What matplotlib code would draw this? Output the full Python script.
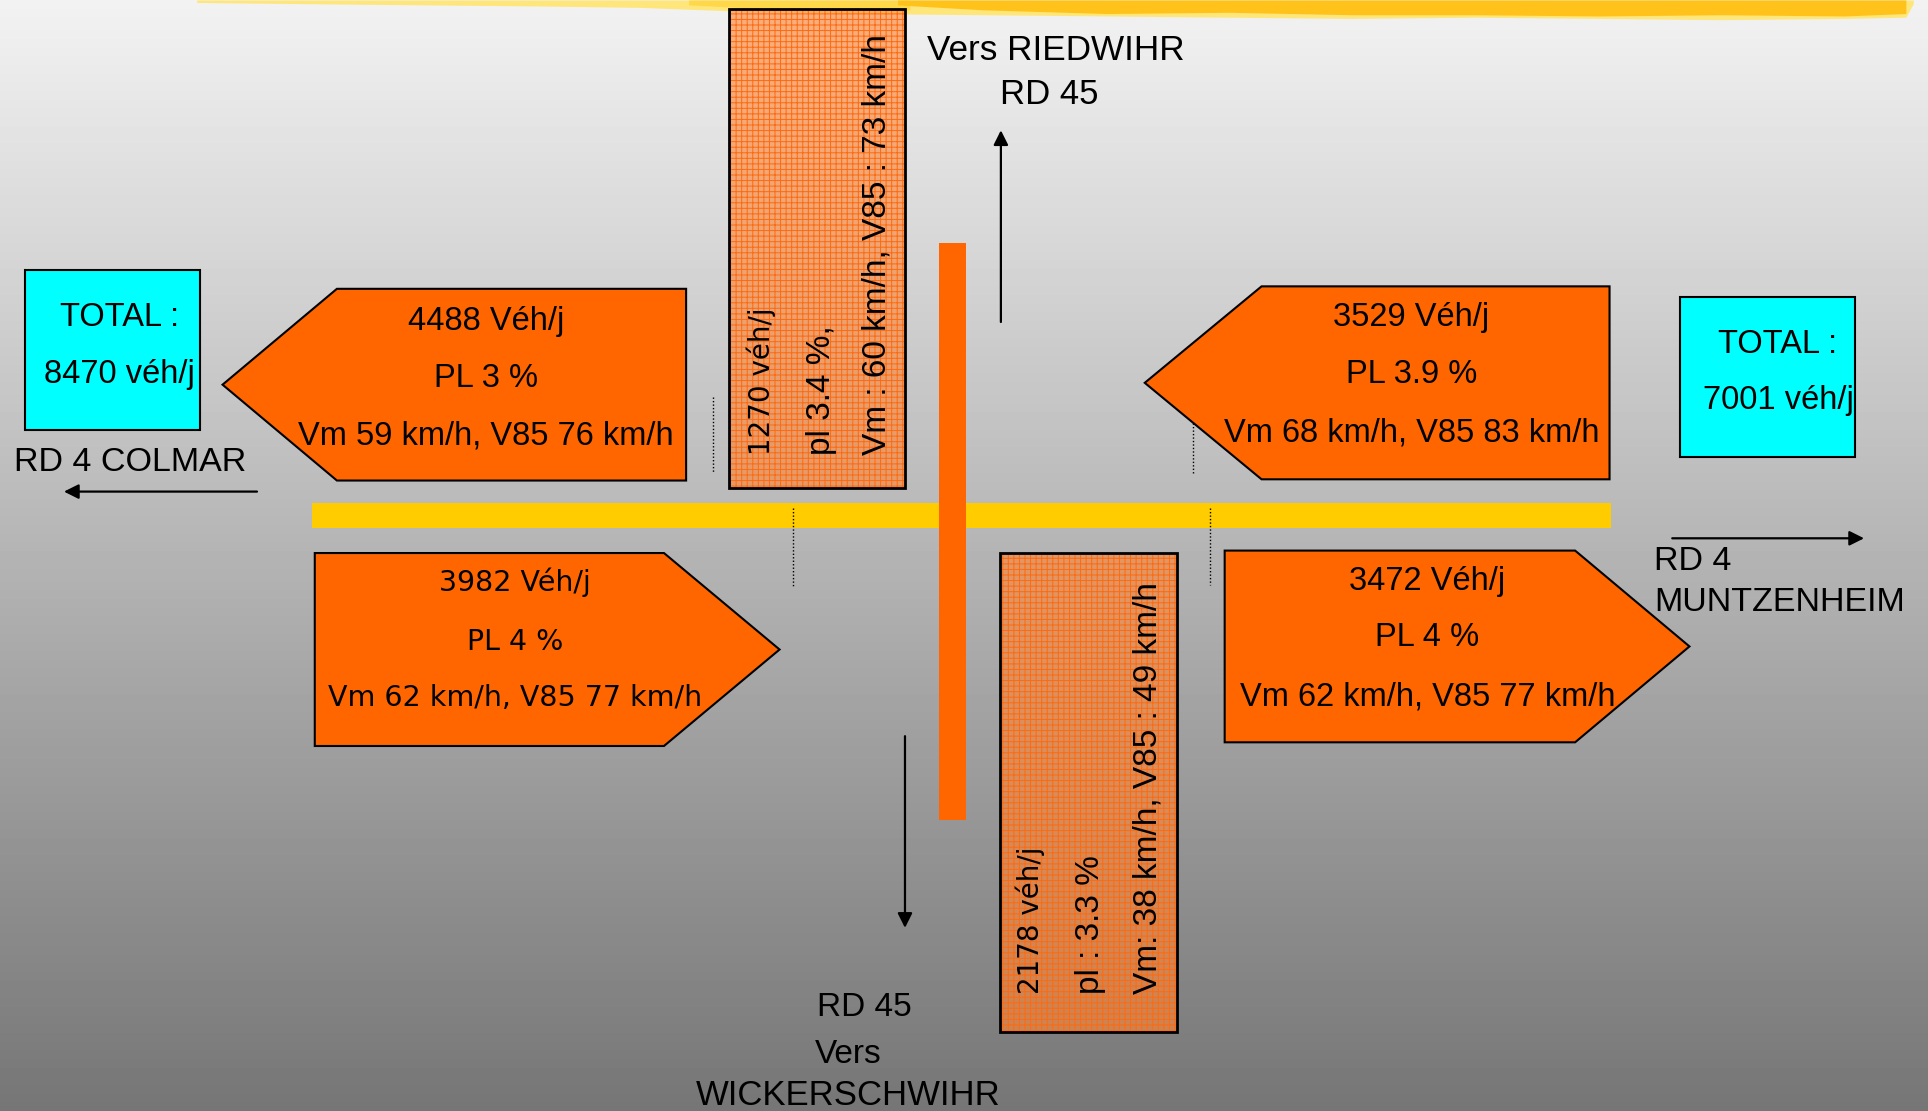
import numpy as np
import matplotlib
matplotlib.use("Agg")
import matplotlib.pyplot as plt
from matplotlib import font_manager
from matplotlib.patches import Polygon, Rectangle

# --- data ----------------------------------------------------------------
flow_veh = [4488, 3529, 3982, 3472]          # RD 4 directional flows
flow_pl = ["3", "3.9", "4", "4"]             # heavy vehicles %
flow_vm = [59, 68, 62, 62]                   # mean speed
flow_v85 = [76, 83, 77, 77]                  # 85th percentile speed

side_totals = [8470, 7001]                   # COLMAR side, MUNTZENHEIM side

rd45_veh = [1270, 2178]                      # RD 45 north / south
rd45_pl = ["3.4", "3.3"]
rd45_vm = [60, 38]
rd45_v85 = [73, 49]

# --- layout (reference drawn in 1568 x 904 units) -------------------------
W, H = 1568, 904
# (x_left, x_right, y_top, y_bottom, tip_x, pointing, text_x, text_ys, font)
flow_shapes = [
    (274, 558, 235, 391, 181, "left", 395, (262, 308, 355), "narrow"),
    (1026, 1309, 233, 390, 931, "left", 1148, (258, 305, 352), "narrow"),
    (256, 540, 450, 607, 634, "right", 419, (474, 522, 568), "wide"),
    (996, 1281, 448, 604, 1374, "right", 1161, (473, 519, 567), "narrow"),
]
total_boxes = [(20, 163, 220, 350, 97, (258, 305)),
               (1366, 1509, 242, 372, 1446, (280, 326))]
rd45_boxes = [(593, 736, 7, 397, (619, 668, 713), 370),
              (813, 957, 450, 840, (838, 887, 934), 809)]
rd45_fmt = [("{} véh/j", "pl {} %,", "Vm : {} km/h, V85 : {} km/h"),
            ("{} véh/j", "pl : {} %", "Vm: {} km/h, V85 : {} km/h")]

ORANGE = "#ff6600"
YELLOW = "#ffcc00"
CYAN = "#00ffff"

names = {f.name for f in font_manager.fontManager.ttflist}
if "Liberation Sans Narrow" in names:
    NARROW, NS, LS = "Liberation Sans Narrow", 28.5, 29.5
else:
    NARROW, NS, LS = "Liberation Sans", 23.5, 24.5
ARIAL = "Liberation Sans"
WIDE = "DejaVu Sans"

fig = plt.figure(figsize=(19.28, 11.11), dpi=100)
ax = fig.add_axes([0, 0, 1, 1])
ax.set_xlim(0, W)
ax.set_ylim(H, 0)
ax.axis("off")

# background grey gradient
grad = np.linspace(242, 118, 256)[:, None] / 255.0
ax.imshow(grad, cmap="gray", vmin=0, vmax=1, extent=[0, W, H, 0],
          aspect="auto", zorder=0)

# yellow brush strip at the top
xs_light = [160, 250, 350, 450, 520, 600, 700, 800, 900, 1000, 1100, 1200,
            1300, 1400, 1500, 1550, 1556]
yb_light = [2, 3, 4, 5, 6, 9, 11, 12, 13, 14, 15, 14, 15, 16, 15, 14, 3]
ax.fill_between(xs_light, 0, yb_light, color="#ffe67a", lw=0, zorder=1)
xs_mid = [560, 620, 680, 740]
yb_mid = [4, 7, 8, 8]
ax.fill_between(xs_mid, 0, yb_mid, color="#ffd84a", lw=0, zorder=1)
xs_deep = [730, 800, 900, 1000, 1100, 1200, 1300, 1400, 1500, 1550]
yb_deep = [4, 8, 11, 10, 12, 12, 13, 12, 13, 11]
ax.fill_between(xs_deep, 0, yb_deep, color="#ffc21a", lw=0, zorder=1)

# roads
ax.add_patch(Rectangle((254, 409), 1310 - 254, 21, facecolor=YELLOW,
                       lw=0, zorder=2))
ax.add_patch(Rectangle((764, 198), 22, 667 - 198, facecolor=ORANGE,
                       lw=0, zorder=2))

# thin dotted guide lines
for x, y0, y1 in [(580, 323, 385), (645, 413, 477), (970, 344, 385), (984, 413, 476)]:
    ax.plot([x, x], [y0, y1], color="black", lw=1, ls=(0, (1, 1.5)), zorder=3)

# direction arrows
for tail, head in [((209, 400), (52, 400)), ((814, 262), (814, 106)),
                   ((1360, 438), (1516, 438)), ((736, 599), (736, 755))]:
    ax.annotate("", xy=head, xytext=tail,
                arrowprops=dict(arrowstyle="-|>", color="black", lw=1.6,
                                mutation_scale=22, shrinkA=0, shrinkB=0),
                zorder=3)

# flow arrows
for i, (xl, xr, yt, yb, tip, way, tx, tys, font) in enumerate(flow_shapes):
    ym = (yt + yb) / 2
    if way == "left":
        pts = [(tip, ym), (xl, yt), (xr, yt), (xr, yb), (xl, yb)]
    else:
        pts = [(xl, yt), (xr, yt), (tip, ym), (xr, yb), (xl, yb)]
    ax.add_patch(Polygon(pts, closed=True, facecolor=ORANGE,
                         edgecolor="black", lw=1.5, zorder=4))
    lines = [f"{flow_veh[i]} Véh/j", f"PL {flow_pl[i]} %",
             f"Vm {flow_vm[i]} km/h, V85 {flow_v85[i]} km/h"]
    fam, fs = (NARROW, NS) if font == "narrow" else (WIDE, 20.5)
    for s, ty in zip(lines, tys):
        ax.text(tx, ty, s, ha="center", va="center", fontsize=fs,
                family=fam, color="black", zorder=5)

# totals
for (xl, xr, yt, yb, tx, tys), tot in zip(total_boxes, side_totals):
    ax.add_patch(Rectangle((xl, yt), xr - xl, yb - yt, facecolor=CYAN,
                           edgecolor="black", lw=1.5, zorder=4))
    ax.text(tx, tys[0], "TOTAL :", ha="center", va="center", fontsize=NS,
            family=NARROW, zorder=5)
    ax.text(tx, tys[1], f"{tot} véh/j", ha="center", va="center",
            fontsize=NS, family=NARROW, zorder=5)

# RD 45 hatched boxes
plt.rcParams["hatch.linewidth"] = 0.7
for i, (xl, xr, yt, yb, cols, ybase) in enumerate(rd45_boxes):
    ax.add_patch(Rectangle((xl, yt), xr - xl, yb - yt,
                           facecolor=(1.0, 0.52, 0.2, 0.62),
                           edgecolor="#ff6a10", hatch="+++", lw=0, zorder=4))
    ax.add_patch(Rectangle((xl, yt), xr - xl, yb - yt, fill=False,
                           edgecolor="black", lw=2, zorder=5))
    f1, f2, f3 = rd45_fmt[i]
    texts = [(f1.format(rd45_veh[i]), WIDE, 20),
             (f2.format(rd45_pl[i]), ARIAL, 24),
             (f3.format(rd45_vm[i], rd45_v85[i]), ARIAL, 24)]
    for (s, fam, fs), cx in zip(texts, cols):
        ax.text(cx, ybase, s, rotation=90, ha="center", va="bottom",
                fontsize=fs, family=fam, zorder=6)

# place names
ax.text(859, 41, "Vers RIEDWIHR", ha="center", va="center", fontsize=25.3,
        family=ARIAL)
ax.text(853, 77, "RD 45", ha="center", va="center", fontsize=25,
        family=ARIAL)
ax.text(11, 376, "RD 4 COLMAR", ha="left", va="center", fontsize=LS,
        family=NARROW)
ax.text(1345, 457, "RD 4", ha="left", va="center", fontsize=LS,
        family=NARROW)
ax.text(1345, 490, "MUNTZENHEIM", ha="left", va="center", fontsize=LS,
        family=NARROW)
ax.text(703, 820, "RD 45", ha="center", va="center", fontsize=24,
        family=ARIAL)
ax.text(690, 858, "Vers", ha="center", va="center", fontsize=24,
        family=ARIAL)
ax.text(690, 891, "WICKERSCHWIHR", ha="center", va="center", fontsize=25,
        family=ARIAL)

fig.savefig("out.png", dpi=100)
